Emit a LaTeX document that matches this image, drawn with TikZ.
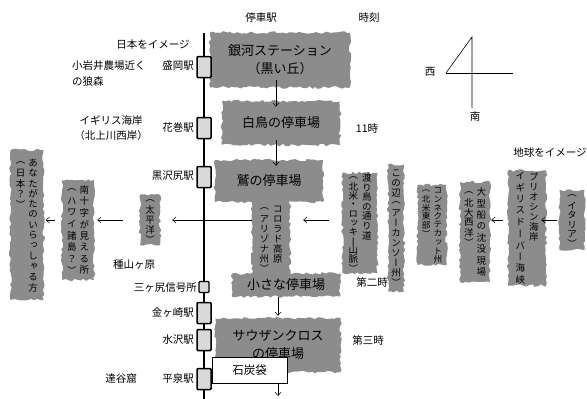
\documentclass[tikz,border=0pt]{standalone}
\usepackage{fontspec}
\setmainfont{Noto Sans CJK JP}
\newfontfamily\vjp[RawFeature=+vert]{Noto Sans CJK JP}
\usetikzlibrary{arrows.meta,decorations.pathmorphing}
\newlength\vcell
\newcommand\vstack[2][10pt]{\setlength\vcell{#1}\vtop{\offinterlineskip\vstackloop#2\relax}}
\def\vstackloop#1{\ifx\relax#1\else\vbox to\vcell{\vss\hbox to 1em{\hss#1\hss}\vss}\expandafter\vstackloop\fi}
\tikzset{
 lbl/.style={font=\fontsize{10.5}{15}\selectfont, inner sep=0pt},
 blob/.style={fill=black!45, decorate, decoration={random steps,segment length=3pt,amplitude=1.3pt}, inner sep=0pt, font=\fontsize{13}{18}\selectfont, align=center},
 vblob/.style={blob, font=\vjp\fontsize{9.5}{10}\selectfont},
 stbox/.style={draw, line width=1.5pt, fill=black!15, minimum width=14pt, minimum height=21pt, inner sep=0pt, rounded corners=1pt},
 arr/.style={line width=0.5pt, -{Straight Barb[length=3.5pt,width=6pt]}},
}
\begin{document}
\begin{tikzpicture}[x=1pt,y=-1pt]
\pgfmathsetseed{7}
\useasboundingbox (0,0) rectangle (587,399);
% headers
\node[lbl] (hSt) at (261,18) {停車駅};
\node[lbl] (hTm) at (369,18) {時刻};
% blobs along the line
\node[blob, minimum width=140pt, minimum height=55pt] (b1) at (280,60) {銀河ステーション\\（黒い丘）};
\node[blob, minimum width=118pt, minimum height=44pt] (b2) at (281,123) {白鳥の停車場};
\node[blob, minimum width=108pt, minimum height=42pt] (b3) at (269,181) {鷲の停車場};
\node[vblob, minimum width=38pt, minimum height=78pt] (b4) at (271,239) {\vstack[10pt]{（アリゾナ州）}\kern4pt\vstack[10pt]{コロラド高原}};
\node[blob, minimum width=108pt, minimum height=23pt] (b5) at (286,285) {小さな停車場};
\node[blob, minimum width=125pt, minimum height=54pt] (b6) at (278,345) {サウザンクロス\\の停車場};
\node[draw, fill=white, line width=0.6pt, minimum width=75pt, minimum height=26pt, inner sep=0pt, font=\fontsize{11.5}{14}\selectfont] (b7) at (249.5,370) {石炭袋};
% left blobs
\node[vblob, minimum width=33pt, minimum height=150pt] (you) at (27,225) {\vstack[10.4pt]{（日本？）}\kern3pt\vstack[10.4pt]{あなたがたのいらっしゃる方}};
\node[vblob, minimum width=32pt, minimum height=100pt] (nc) at (78,230) {\vstack[11.5pt]{（ハワイ諸島？）}\kern3pt\vstack[11.5pt]{南十字が見える所}};
\node[vblob, minimum width=20pt, minimum height=50pt] (pac) at (150,220) {\vstack[9.6pt]{（太平洋）}};
% right blobs
\node[vblob, minimum width=35pt, minimum height=100pt] (wat) at (360,223) {\vstack[9pt]{（北米・ロッキー山脈）}\kern4pt\vstack[9.6pt]{渡り鳥の通り道}};
\node[vblob, minimum width=16pt, minimum height=127pt] (kono) at (396,228) {\vstack[10pt]{この辺（アーカンソー州）}};
\node[vblob, minimum width=29pt, minimum height=80pt, font=\vjp\fontsize{8.6}{9}\selectfont] (conn) at (432,225) {\vstack[8.6pt]{（北米東部）}\kern3pt\vstack[8.6pt]{コンネクテカット州}};
\node[vblob, minimum width=30pt, minimum height=100pt] (ship) at (475,232) {\vstack[10pt]{（北大西洋）}\kern3pt\vstack[11.5pt]{大型船の沈没現場}};
\node[vblob, minimum width=38pt, minimum height=115pt] (prio) at (527,228) {\vstack[11.5pt]{イギリスドーバー海峡}\kern4pt\vstack[10pt]{プリオシン海岸}};
\node[vblob, minimum width=25pt, minimum height=60pt] (ita) at (572,220) {\vstack[9.5pt]{（イタリア）}};
% railway line and stations
\coordinate (ltop) at (204,33);
\coordinate (lbot) at (204,399);
\draw[line width=2.4pt] (ltop) -- (lbot);
\node[stbox] (s1) at (204,67) {};
\node[stbox] (s2) at (204,128) {};
\node[stbox] (s3) at (204,177) {};
\node[stbox, line width=1.2pt, minimum width=10pt, minimum height=11pt] (s4) at (204,287) {};
\node[stbox] (s5) at (204,313) {};
\node[stbox] (s6) at (204,340) {};
\node[stbox] (s7) at (204,379) {};
% station labels
\node[lbl, anchor=east] (l1) at (194,66) {盛岡駅};
\node[lbl, anchor=east] (l2) at (194,128) {花巻駅};
\node[lbl, anchor=east] (l3) at (194,176) {黒沢尻駅};
\node[lbl, anchor=east] (l4) at (197,288) {三ヶ尻信号所};
\node[lbl, anchor=east] (l5) at (194,313) {金ヶ崎駅};
\node[lbl, anchor=east] (l6) at (194,340) {水沢駅};
\node[lbl, anchor=east] (l7) at (194,379) {平泉駅};
\node[lbl] (t1) at (121,379) {達谷窟};
\node[lbl] (t2) at (134,265) {種山ヶ原};
\node[lbl] (t3) at (153,45) {日本をイメージ};
\node[lbl, anchor=west, align=left, font=\fontsize{10.5}{16}\selectfont] (t4) at (72,74) {小岩井農場近く\\の狼森};
\node[lbl, align=center, font=\fontsize{10.5}{15}\selectfont] (t5) at (111,128) {イギリス海岸\\（北上川西岸）};
% times and notes
\node[lbl] (tm1) at (367,128) {11時};
\node[lbl] (tm2) at (372,282) {第二時};
\node[lbl] (tm3) at (368,340) {第三時};
\node[lbl] (t6) at (550,152) {地球をイメージ};
% compass
\coordinate (cw) at (446,73);
\coordinate (ctop) at (472,37);
\coordinate (cbot) at (472,108);
\coordinate (ce) at (513,73);
\draw[line width=0.6pt] (cw) -- (ctop) -- (cbot);
\draw[line width=0.6pt] (cw) -- (ce);
\node[lbl] (nW) at (430,72) {西};
\node[lbl] (nS) at (475,117) {南};
% vertical arrows
\draw[arr] ([xshift=-4pt,yshift=8pt]b1.south) -- ([xshift=-5pt,yshift=-6pt]b2.north);
\draw[arr] ([xshift=-5pt,yshift=5pt]b2.south) -- ([xshift=7pt,yshift=-6pt]b3.north);
\draw[arr] ([xshift=-8pt]b5.south) -- ([yshift=2pt]b6.north);
\coordinate (end7) at (278,396);
\draw[arr] (b7.south -| end7) -- (end7);
% horizontal arrows
\coordinate (ay) at (0,220);
\coordinate (b4W) at (b4.west |- ay);
\coordinate (b4E) at (b4.east |- ay);
\coordinate (ncE) at (nc.east |- ay);
\coordinate (ncW) at (nc.west |- ay);
\coordinate (youE) at (you.east |- ay);
\coordinate (watW) at (wat.west |- ay);
\coordinate (prioW) at (prio.west |- ay);
\coordinate (prioE) at (prio.east |- ay);
\coordinate (shipE) at (ship.east |- ay);
\coordinate (itaW) at (ita.west |- ay);
\draw[arr] (b4W) -- ([xshift=12pt]pac.east);
\draw[arr] ([xshift=-17pt]pac.west) -- ([xshift=3pt]ncE);
\draw[arr] ([xshift=-7pt]ncW) -- ([xshift=2pt]youE);
\draw[arr] ([xshift=-13pt]watW) -- ([xshift=13pt]b4E);
\draw[arr] ([xshift=-5pt]prioW) -- ([xshift=1pt]shipE);
\draw[arr] ([xshift=-2pt]itaW) -- ([xshift=-5pt]prioE);
\end{tikzpicture}
\end{document}
